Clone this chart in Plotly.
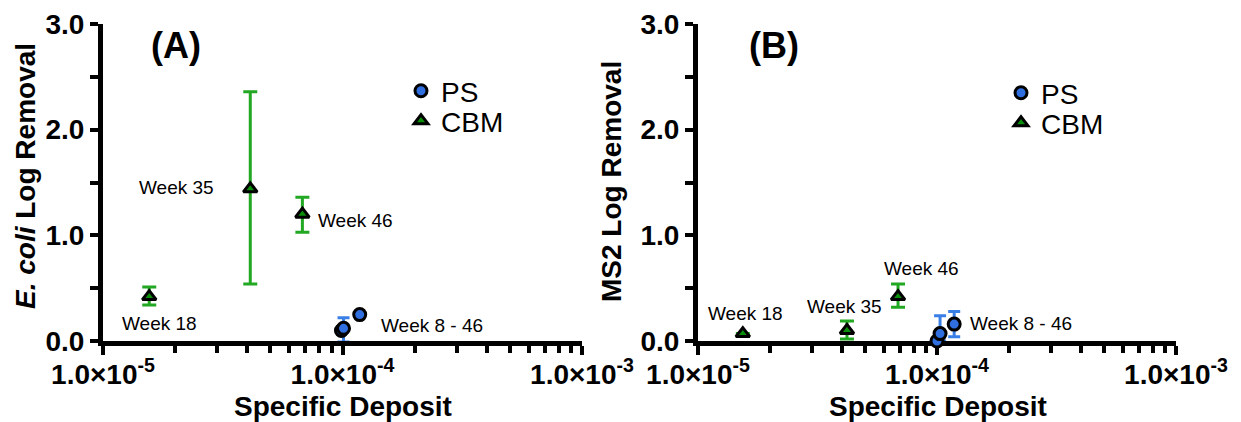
import plotly.graph_objects as go

W, H = 1241, 422

# ---- data -------------------------------------------------------------
# Panel A: E. coli log removal vs specific deposit
a_cbm_x = [1.56e-5, 4.12e-5, 6.8e-5]
a_cbm_y = [0.42, 1.44, 1.20]
a_cbm_err_plus = [0.09, 0.92, 0.16]
a_cbm_err_minus = [0.08, 0.90, 0.17]

a_ps_x = [0.99e-4, 1.01e-4, 1.18e-4]
a_ps_y = [0.10, 0.12, 0.25]
a_ps_err_plus = [0.0, 0.10, 0.0]
a_ps_err_minus = [0.0, 0.13, 0.0]

# Panel B: MS2 log removal vs specific deposit
b_cbm_x = [1.54e-5, 4.2e-5, 6.87e-5]
b_cbm_y = [0.07, 0.10, 0.42]
b_cbm_err_plus = [0.0, 0.09, 0.12]
b_cbm_err_minus = [0.0, 0.08, 0.10]

b_ps_x = [1.0e-4, 1.03e-4, 1.18e-4]
b_ps_y = [0.0, 0.07, 0.16]
b_ps_err_plus = [0.0, 0.17, 0.12]
b_ps_err_minus = [0.0, 0.07, 0.12]

x_major = [1e-5, 1e-4, 1e-3]
x_major_text = ["1.0×10<sup>-5</sup>", "1.0×10<sup>-4</sup>", "1.0×10<sup>-3</sup>"]
x_minor = [m * d for d in (1e-5, 1e-4) for m in range(2, 10)]
y_ticks = [0, 1, 2, 3]
y_tick_text = ["0.0", "1.0", "2.0", "3.0"]

# ---- styling ----------------------------------------------------------
FONT = "Liberation Sans"
BLUE_FILL = "#2f6fdf"
BLUE_ERR = "#3a7fe6"
GREEN_FILL = "#0a8f0a"
GREEN_ERR = "#22a822"


def px(x):
    return x / W


def py(y):
    return 1 - y / H


def ps_trace(x, y, ep, em, xa, ya, legend):
    return go.Scatter(
        x=x, y=y, mode="markers", name="PS", xaxis=xa, yaxis=ya, legend=legend,
        showlegend=True,
        marker=dict(symbol="circle", size=12, color=BLUE_FILL,
                    line=dict(color="black", width=3)),
        error_y=dict(type="data", array=ep, arrayminus=em, color=BLUE_ERR,
                     thickness=3, width=6),
        cliponaxis=False,
    )


def cbm_trace(x, y, ep, em, xa, ya, legend):
    return go.Scatter(
        x=x, y=y, mode="markers", name="CBM", xaxis=xa, yaxis=ya, legend=legend,
        showlegend=True,
        marker=dict(symbol="triangle-up", size=12, color=GREEN_FILL,
                    line=dict(color="black", width=3)),
        error_y=dict(type="data", array=ep, arrayminus=em, color=GREEN_ERR,
                     thickness=3, width=7),
        cliponaxis=False,
    )


fig = go.Figure()
fig.add_trace(cbm_trace(a_cbm_x, a_cbm_y, a_cbm_err_plus, a_cbm_err_minus, "x", "y", "legend2"))
fig.add_trace(ps_trace(a_ps_x, a_ps_y, a_ps_err_plus, a_ps_err_minus, "x", "y", "legend"))
fig.add_trace(cbm_trace(b_cbm_x, b_cbm_y, b_cbm_err_plus, b_cbm_err_minus, "x2", "y2", "legend4"))
fig.add_trace(ps_trace(b_ps_x, b_ps_y, b_ps_err_plus, b_ps_err_minus, "x2", "y2", "legend3"))

tickfont = dict(family=FONT, size=28, color="black", weight="bold")


def xaxis(domain, anchor):
    return dict(
        domain=domain, anchor=anchor, type="log", range=[-5, -3],
        tickmode="array", tickvals=x_major, ticktext=x_major_text,
        ticks="outside", ticklen=9, tickwidth=4, tickcolor="black",
        minor=dict(tickmode="array", tickvals=x_minor, ticks="outside",
                   ticklen=7, tickwidth=4, tickcolor="black"),
        showline=True, linecolor="black", linewidth=5, showgrid=False,
        zeroline=False, tickfont=tickfont, layer="below traces",
        ticklabelstandoff=-5, automargin=False,
    )


def yaxis(anchor):
    return dict(
        domain=[py(341), py(24)], anchor=anchor, range=[0, 3],
        tickmode="array", tickvals=y_ticks, ticktext=y_tick_text,
        ticks="outside", ticklen=8, tickwidth=4, tickcolor="black",
        minor=dict(dtick=0.5, ticks="outside", ticklen=8, tickwidth=4,
                   tickcolor="black"),
        showline=True, linecolor="black", linewidth=5, showgrid=False,
        zeroline=False, tickfont=tickfont, layer="below traces",
        automargin=False,
    )


def legend_box(xc, yc):
    return dict(x=px(xc - 18), y=py(yc), xanchor="left", yanchor="middle",
                bgcolor="rgba(0,0,0,0)", borderwidth=0,
                font=dict(family=FONT, size=28, color="black"))


fig.update_layout(
    width=W, height=H,
    margin=dict(l=0, r=0, t=0, b=0, pad=0, autoexpand=False),
    showlegend=True,
    paper_bgcolor="white", plot_bgcolor="white",
    xaxis=xaxis([px(103), px(582)], "y"),
    yaxis=yaxis("x"),
    xaxis2=xaxis([px(698), px(1176)], "y2"),
    yaxis2=yaxis("x2"),
    legend=legend_box(419, 91),
    legend2=legend_box(419, 121),
    legend3=legend_box(1019, 93),
    legend4=legend_box(1019, 123),
)

annotations = [
    # panel letters
    dict(x=px(176), y=py(45), text="<b>(A)</b>", size=36),
    dict(x=px(774), y=py(45), text="<b>(B)</b>", size=36),
    # axis titles
    dict(x=px(25), y=py(176), text="<b><i>E. coli</i> Log Removal</b>", size=28, angle=-90),
    dict(x=px(611), y=py(182), text="<b>MS2 Log Removal</b>", size=28, angle=-90),
    dict(x=px(343), y=py(406), text="<b>Specific Deposit</b>", size=28),
    dict(x=px(938), y=py(406), text="<b>Specific Deposit</b>", size=28),
    # point labels, panel A
    dict(x=px(176), y=py(188), text="Week 35", size=19),
    dict(x=px(355), y=py(220), text="Week 46", size=19),
    dict(x=px(159), y=py(323), text="Week 18", size=19),
    dict(x=px(432), y=py(325), text="Week 8 - 46", size=19),
    # point labels, panel B
    dict(x=px(745), y=py(313), text="Week 18", size=19),
    dict(x=px(845), y=py(306), text="Week 35", size=19),
    dict(x=px(921), y=py(268), text="Week 46", size=19),
    dict(x=px(1021), y=py(323), text="Week 8 - 46", size=19),
]
for a in annotations:
    fig.add_annotation(
        x=a["x"], y=a["y"], xref="paper", yref="paper", text=a["text"],
        showarrow=False, xanchor="center", yanchor="middle",
        textangle=a.get("angle", 0),
        font=dict(family=FONT, size=a["size"], color="black"),
    )

fig.write_html("out.html")
